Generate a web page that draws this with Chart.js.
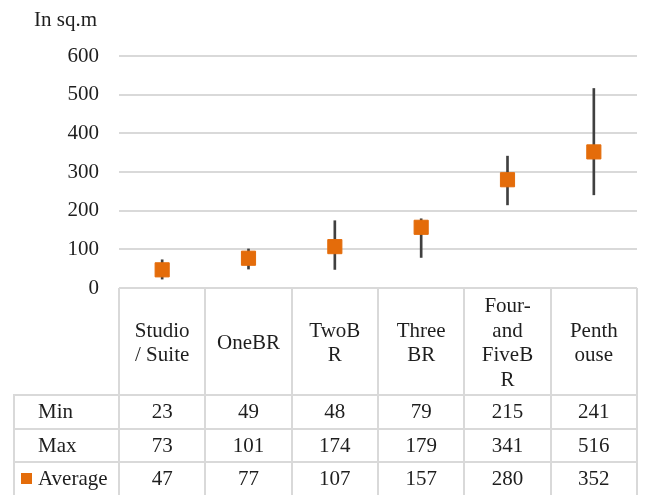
<!DOCTYPE html>
<html>
<head>
<meta charset="utf-8">
<style>
  html, body { margin: 0; padding: 0; background: #ffffff; }
  canvas { display: block; }
</style>
<script src="https://cdn.jsdelivr.net/npm/chart.js@4/dist/chart.umd.min.js"></script>
</head>
<body>
<canvas id="chart" width="645" height="495"></canvas>
<script>
// Unit sizes by apartment type (square metres)
const categories = [["Studio", "/ Suite"], ["OneBR"], ["TwoB", "R"], ["Three", "BR"], ["Four-", "and", "FiveB", "R"], ["Penth", "ouse"]];
const minValues = [23, 49, 48, 79, 215, 241];
const maxValues = [73, 101, 174, 179, 341, 516];
const avgValues = [47, 77, 107, 157, 280, 352];
const rowNames = ["Min", "Max", "Average"];
const unitLabel = "In sq.m";
const yMin = 0;
const yMax = 600;
const yStep = 100;

const FONT = "Liberation Serif, 'Times New Roman', serif";
const TEXT = "#1e1e1e";
const GRID = "#d9d9d9";
const ORANGE = "#E46C0A";

// Data table drawn underneath the plot, aligned with the category columns
const tablePlugin = {
  id: "dataTable",
  afterDraw(chart) {
    const ctx = chart.ctx;
    const x = chart.scales.x;
    const area = chart.chartArea;
    const n = categories.length;
    const colW = (x.right - x.left) / n;
    const headerTop = area.bottom;
    const headerBottom = headerTop + 107;
    const rowH = 33.5;
    const tableLeft = 14;
    const tableBottom = chart.height + 2;
    const rows = [minValues, maxValues, avgValues];

    ctx.save();
    ctx.strokeStyle = GRID;
    ctx.lineWidth = 2;
    ctx.beginPath();
    // column separators
    for (let i = 0; i <= n; i++) {
      const px = Math.round(x.left + i * colW);
      ctx.moveTo(px, headerTop);
      ctx.lineTo(px, tableBottom);
    }
    // row separators
    for (let r = 0; r < rows.length; r++) {
      const py = Math.round(headerBottom + r * rowH);
      ctx.moveTo(tableLeft - 1, py);
      ctx.lineTo(x.right + 1, py);
    }
    // left border of the row-name column
    ctx.moveTo(tableLeft, headerBottom);
    ctx.lineTo(tableLeft, tableBottom);
    ctx.stroke();

    ctx.fillStyle = TEXT;
    ctx.font = "21px " + FONT;
    ctx.textAlign = "center";
    ctx.textBaseline = "alphabetic";

    // category headers, vertically centred in the header cell
    const lineH = 24.5;
    const midBase = (headerTop + headerBottom) / 2 + 7.5;
    categories.forEach((lines, i) => {
      const cx = x.getPixelForValue(i);
      lines.forEach((t, k) => {
        ctx.fillText(t, cx, midBase + (k - (lines.length - 1) / 2) * lineH);
      });
    });

    // value rows
    rows.forEach((vals, r) => {
      const base = headerBottom + r * rowH + 23;
      ctx.textAlign = "left";
      ctx.fillStyle = TEXT;
      ctx.fillText(rowNames[r], 38, base);
      ctx.textAlign = "center";
      vals.forEach((v, i) => {
        ctx.fillText(String(v), x.getPixelForValue(i), base);
      });
    });

    // legend key for the average markers
    ctx.fillStyle = ORANGE;
    ctx.fillRect(21, headerBottom + 2 * rowH + 11, 11, 11);

    // unit label above the value axis
    ctx.fillStyle = TEXT;
    ctx.textAlign = "left";
    ctx.fillText(unitLabel, 34, 26);
    ctx.restore();
  }
};

new Chart(document.getElementById("chart"), {
  data: {
    labels: categories,
    datasets: [
      {
        type: "bar",
        label: "Range",
        data: minValues.map((m, i) => [m, maxValues[i]]),
        backgroundColor: "#404040",
        barThickness: 2,
        borderWidth: 0,
        order: 2
      },
      {
        type: "line",
        label: "Average",
        data: avgValues,
        showLine: false,
        pointStyle: "rect",
        pointRadius: 10,
        pointHoverRadius: 10,
        backgroundColor: ORANGE,
        borderColor: ORANGE,
        borderWidth: 1,
        order: 1
      }
    ]
  },
  options: {
    responsive: false,
    devicePixelRatio: 1,
    animation: false,
    layout: { autoPadding: false, padding: { top: 56, right: 8, bottom: 207, left: 0 } },
    plugins: {
      legend: { display: false },
      tooltip: { enabled: false }
    },
    scales: {
      x: {
        type: "category",
        display: false,
        offset: true
      },
      y: {
        min: yMin,
        max: yMax,
        afterFit(scale) { scale.width = 119; },
        ticks: {
          stepSize: yStep,
          padding: 20,
          color: TEXT,
          font: { family: FONT, size: 21 }
        },
        grid: { color: GRID, lineWidth: 2, drawTicks: false },
        border: { display: false }
      }
    }
  },
  plugins: [tablePlugin]
});
</script>
</body>
</html>
